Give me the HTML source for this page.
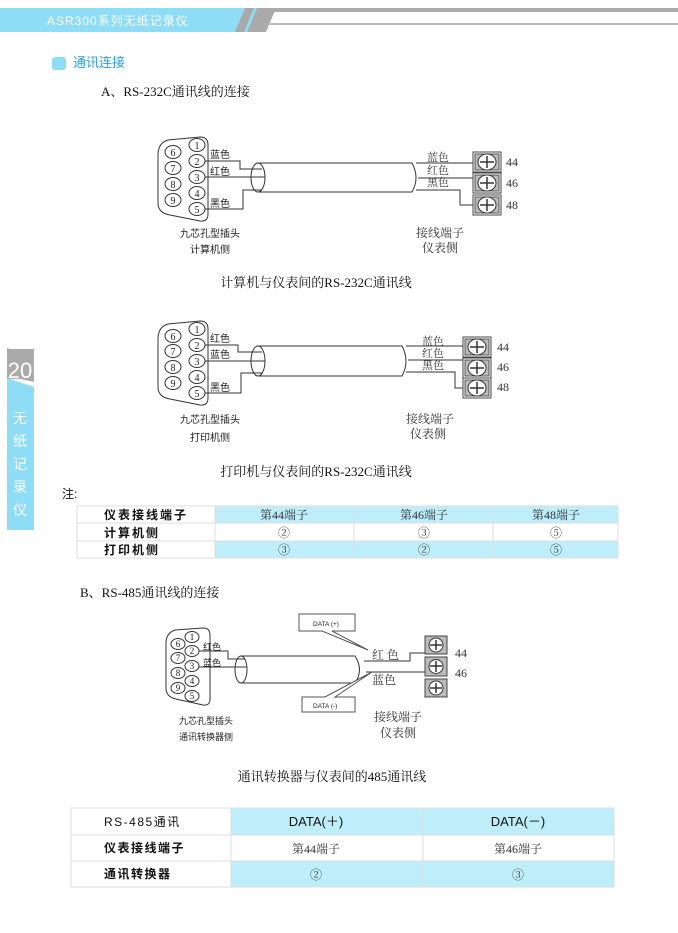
<!DOCTYPE html>
<html><head><meta charset="utf-8"><style>
body{margin:0;background:#fff}
svg{display:block}
.s{font-family:"Liberation Sans","Noto Sans CJK SC",sans-serif}
.r{font-family:"Liberation Serif","Noto Serif CJK SC",serif}
</style></head><body>
<svg width="678" height="933" viewBox="0 0 678 933" xmlns="http://www.w3.org/2000/svg">
<defs>
<g id="pins" fill="#fff" stroke="#333" stroke-width="1">
 <path d="M-4,-6 Q-14,-3 -14,8 L-14,62 Q-14,74 -2,76 L28,84 Q36,86 38,78 L38,0 Q38,-8 30,-8 Z" fill="#fff"/>
</g>
<g id="term">
 <rect x="0" y="0" width="28" height="20" fill="#fff" stroke="#444"/>
 <rect x="2" y="2" width="24" height="16" fill="#bbb" stroke="#555"/>
 <ellipse cx="14" cy="10" rx="9" ry="8" fill="#fff" stroke="#333"/>
 <path d="M7,10 H21 M14,4 V16" stroke="#333" stroke-width="1.5"/>
</g>
</defs>

<!-- header -->
<rect x="0" y="8" width="245" height="24" fill="#8fdcf6"/>
<polygon points="237,8 262,8 252,32 227,32" fill="#8fdcf6"/>
<polygon points="245,8 254,8 244,32 235,32" fill="#aaa"/>
<polygon points="257,8 276,8 266,32 247,32" fill="#aaa"/>
<rect x="262" y="8" width="416" height="4" fill="#aaa"/>
<rect x="268" y="23" width="410" height="2" fill="#bbb"/>
<text x="47" y="25" class="s" font-size="12" fill="#fff" letter-spacing="1">ASR300系列无纸记录仪</text>

<rect x="52" y="57" width="14" height="13" rx="3" fill="#8fdcf6"/>
<text x="73" y="67" class="s" font-size="13" fill="#2aa0d8">通讯连接</text>
<text x="101" y="96" class="r" font-size="13" fill="#111">A、RS-232C通讯线的连接</text>

<!-- sidebar -->
<polygon points="7,348 34,357 34,382 7,376" fill="#aaa"/>
<rect x="7" y="349" width="27" height="30" fill="#aaa"/>
<polygon points="7,378 34,387 34,530 7,530" fill="#8fdcf6"/>
<text x="20" y="378" class="s" font-size="22" fill="#fff" text-anchor="middle">20</text>
<g class="s" font-size="14" fill="#fff" text-anchor="middle">
<text x="20" y="423">无</text><text x="20" y="446">纸</text><text x="20" y="469">记</text><text x="20" y="492">录</text><text x="20" y="515">仪</text>
</g>

<!-- Diagram 1 -->
<g stroke="#333" fill="none" stroke-width="1">
 <path d="M168,140 Q158,143 158,155 L158,203 Q158,213 170,215 L200,221 Q208,222 208,214 L208,145 Q208,137 200,137 Z" fill="#fff"/>
</g>
<g fill="#fff" stroke="#333" font-size="10" class="r">
 <ellipse cx="197" cy="145" rx="8" ry="6.5"/><ellipse cx="197" cy="161" rx="8" ry="6.5"/><ellipse cx="197" cy="177" rx="8" ry="6.5"/><ellipse cx="197" cy="193" rx="8" ry="6.5"/><ellipse cx="197" cy="209" rx="8" ry="6.5"/>
 <ellipse cx="173" cy="152" rx="8" ry="6.5"/><ellipse cx="173" cy="168" rx="8" ry="6.5"/><ellipse cx="173" cy="184" rx="8" ry="6.5"/><ellipse cx="173" cy="200" rx="8" ry="6.5"/>
</g>
<g class="r" font-size="10" fill="#222" text-anchor="middle">
 <text x="197" y="149">1</text><text x="197" y="165">2</text><text x="197" y="181">3</text><text x="197" y="197">4</text><text x="197" y="213">5</text>
 <text x="173" y="156">6</text><text x="173" y="172">7</text><text x="173" y="188">8</text><text x="173" y="204">9</text>
</g>
<g stroke="#333" fill="none">
 <path d="M205,161 H240 V169 H262"/><path d="M205,177 H265"/><path d="M205,209 H243 V190 H262"/>
 <path d="M258,163 H412 Q420,178 412,192 H258"/>
 <ellipse cx="258" cy="177.5" rx="7" ry="14.5"/>
 <path d="M416,163 H473"/><path d="M418,178 H473 V183"/><path d="M416,190 H460 V205 H473"/>
</g>
<g class="s" font-size="10" fill="#222"><text x="210" y="158">蓝色</text><text x="210" y="175">红色</text><text x="210" y="207">黑色</text></g>
<g class="r" font-size="11" fill="#333"><text x="427" y="161">蓝色</text><text x="427" y="174">红色</text><text x="427" y="186">黑色</text></g>
<use href="#term" x="473" y="152"/><use href="#term" x="473" y="173"/><use href="#term" x="473" y="195"/>
<g class="r" font-size="12" fill="#333"><text x="506" y="166">44</text><text x="506" y="187">46</text><text x="506" y="209">48</text></g>
<g class="s" font-size="10" fill="#222" text-anchor="middle"><text x="210" y="237">九芯孔型插头</text><text x="210" y="253">计算机侧</text></g>
<g class="r" font-size="12" fill="#333" text-anchor="middle"><text x="440" y="237">接线端子</text><text x="440" y="252">仪表侧</text></g>
<text x="316" y="287" class="r" font-size="13" fill="#111" text-anchor="middle">计算机与仪表间的RS-232C通讯线</text>

<!-- Diagram 2 -->
<path d="M168,324 Q158,327 158,339 L158,387 Q158,397 170,399 L200,405 Q208,406 208,398 L208,329 Q208,321 200,321 Z" fill="#fff" stroke="#333"/>
<g fill="#fff" stroke="#333">
 <ellipse cx="197" cy="329" rx="8" ry="6.5"/><ellipse cx="197" cy="345" rx="8" ry="6.5"/><ellipse cx="197" cy="361" rx="8" ry="6.5"/><ellipse cx="197" cy="377" rx="8" ry="6.5"/><ellipse cx="197" cy="393" rx="8" ry="6.5"/>
 <ellipse cx="173" cy="336" rx="8" ry="6.5"/><ellipse cx="173" cy="351" rx="8" ry="6.5"/><ellipse cx="173" cy="367" rx="8" ry="6.5"/><ellipse cx="173" cy="383" rx="8" ry="6.5"/>
</g>
<g class="r" font-size="10" fill="#222" text-anchor="middle">
 <text x="197" y="333">1</text><text x="197" y="349">2</text><text x="197" y="365">3</text><text x="197" y="381">4</text><text x="197" y="397">5</text>
 <text x="173" y="340">6</text><text x="173" y="355">7</text><text x="173" y="371">8</text><text x="173" y="387">9</text>
</g>
<g stroke="#333" fill="none">
 <path d="M205,345 H238 V352 H262"/><path d="M205,361 H265"/><path d="M205,393 H241 V373 H262"/>
 <path d="M258,346 H402 Q410,361 402,376 H258"/>
 <ellipse cx="258" cy="361" rx="7" ry="15"/>
 <path d="M406,346 H463"/><path d="M408,360 H463 V367"/><path d="M406,372 H455 V388 H463"/>
</g>
<g class="s" font-size="10" fill="#222"><text x="210" y="342">红色</text><text x="210" y="358">蓝色</text><text x="210" y="391">黑色</text></g>
<g class="r" font-size="11" fill="#333"><text x="422" y="345">蓝色</text><text x="422" y="357">红色</text><text x="422" y="369">黑色</text></g>
<use href="#term" x="463" y="337"/><use href="#term" x="463" y="358"/><use href="#term" x="463" y="378"/>
<g class="r" font-size="12" fill="#333"><text x="497" y="351">44</text><text x="497" y="371">46</text><text x="497" y="391">48</text></g>
<g class="s" font-size="10" fill="#222" text-anchor="middle"><text x="210" y="423">九芯孔型插头</text><text x="210" y="441">打印机侧</text></g>
<g class="r" font-size="12" fill="#333" text-anchor="middle"><text x="430" y="423">接线端子</text><text x="428" y="438">仪表侧</text></g>
<text x="316" y="476" class="r" font-size="13" fill="#111" text-anchor="middle">打印机与仪表间的RS-232C通讯线</text>

<text x="62" y="498" class="s" font-size="12" fill="#111">注:</text>
<!-- Table 1 -->
<g stroke="#ddd" stroke-width="1">
 <rect x="77" y="506" width="541" height="52" fill="#fff"/>
 <rect x="215" y="506" width="403" height="17" fill="#bfeefb"/>
 <rect x="215" y="541" width="403" height="17" fill="#bfeefb"/>
 <path d="M77,523 H618 M77,541 H618 M215,506 V558 M354,506 V558 M493,506 V558" fill="none"/>
</g>
<g class="s" font-size="12" fill="#111" font-weight="bold" letter-spacing="2"><text x="104" y="519">仪表接线端子</text><text x="104" y="537">计算机侧</text><text x="104" y="554">打印机侧</text></g>
<g class="r" font-size="12" fill="#333" text-anchor="middle">
 <text x="284" y="519">第44端子</text><text x="424" y="519">第46端子</text><text x="556" y="519">第48端子</text>
 <text x="284" y="537">②</text><text x="424" y="537">③</text><text x="556" y="537">⑤</text>
 <text x="284" y="554">③</text><text x="424" y="554">②</text><text x="556" y="554">⑤</text>
</g>

<text x="80" y="597" class="r" font-size="13" fill="#111">B、RS-485通讯线的连接</text>

<!-- Diagram 3 -->
<path d="M175,630 Q166,633 166,643 L166,688 Q166,697 176,699 L203,705 Q210,706 210,699 L210,635 Q210,628 203,628 Z" fill="#fff" stroke="#333"/>
<g fill="#fff" stroke="#333">
 <ellipse cx="192" cy="637" rx="7" ry="5.5"/><ellipse cx="192" cy="651" rx="7" ry="5.5"/><ellipse cx="192" cy="666" rx="7" ry="5.5"/><ellipse cx="192" cy="681" rx="7" ry="5.5"/><ellipse cx="192" cy="696" rx="7" ry="5.5"/>
 <ellipse cx="178" cy="644" rx="7" ry="5.5"/><ellipse cx="178" cy="658" rx="7" ry="5.5"/><ellipse cx="178" cy="673" rx="7" ry="5.5"/><ellipse cx="178" cy="688" rx="7" ry="5.5"/>
</g>
<g class="r" font-size="9" fill="#222" text-anchor="middle">
 <text x="192" y="640">1</text><text x="192" y="654">2</text><text x="192" y="669">3</text><text x="192" y="684">4</text><text x="192" y="699">5</text>
 <text x="178" y="647">6</text><text x="178" y="661">7</text><text x="178" y="676">8</text><text x="178" y="691">9</text>
</g>
<g stroke="#333" fill="none">
 <path d="M199,651 H228 V659 H245"/><path d="M199,667 H247"/>
 <path d="M241,656 H355 Q364,670 355,683 H241"/>
 <ellipse cx="241" cy="669.5" rx="6" ry="13.5"/>
 <path d="M364,661 H410 V653 H425"/><path d="M366,672 H425"/>
</g>
<g class="s" font-size="9" fill="#222"><text x="203" y="650">红色</text><text x="203" y="666">蓝色</text></g>
<g class="r" font-size="12" fill="#333"><text x="372" y="659">红 色</text><text x="372" y="684">蓝色</text></g>
<rect x="425" y="636" width="22" height="18" fill="#bbb" stroke="#444"/><ellipse cx="436" cy="645" rx="7" ry="7" fill="#fff" stroke="#333"/><path d="M430,645 H442 M436,640 V650" stroke="#333" stroke-width="1.5"/>
<rect x="425" y="657" width="22" height="19" fill="#bbb" stroke="#444"/><ellipse cx="436" cy="666.5" rx="7" ry="7" fill="#fff" stroke="#333"/><path d="M430,666 H442 M436,661 V672" stroke="#333" stroke-width="1.5"/>
<rect x="425" y="679" width="22" height="18" fill="#bbb" stroke="#444"/><ellipse cx="436" cy="688" rx="7" ry="7" fill="#fff" stroke="#333"/><path d="M430,688 H442 M436,683 V693" stroke="#333" stroke-width="1.5"/>
<g class="r" font-size="12" fill="#333"><text x="455" y="657">44</text><text x="455" y="677">46</text></g>
<path d="M299,614 H355 V631 H332 L368,650 L322,631 H299 Z" fill="#fff" stroke="#555"/>
<text x="313" y="626" class="s" font-size="6.5" fill="#222">DATA (+)</text>
<path d="M302,697 H325 L372,672 L335,697 H355 V712 H302 Z" fill="#fff" stroke="#555"/>
<text x="313" y="708" class="s" font-size="6.5" fill="#222">DATA (-)</text>
<g class="s" font-size="9" fill="#222" text-anchor="middle"><text x="206" y="724">九芯孔型插头</text><text x="206" y="740">通讯转换器侧</text></g>
<g class="r" font-size="12" fill="#333" text-anchor="middle"><text x="398" y="721">接线端子</text><text x="398" y="737">仪表侧</text></g>
<text x="332" y="781" class="r" font-size="13" fill="#111" text-anchor="middle">通讯转换器与仪表间的485通讯线</text>

<!-- Table 2 -->
<g stroke="#ddd">
 <rect x="71" y="808" width="543" height="79" fill="#fff"/>
 <rect x="231" y="808" width="383" height="27" fill="#bfeefb"/>
 <rect x="231" y="861" width="383" height="26" fill="#bfeefb"/>
 <path d="M71,835 H614 M71,861 H614 M231,808 V887 M423,808 V887" fill="none"/>
</g>
<g class="s" font-size="12" fill="#111" letter-spacing="1.5"><text x="104" y="826">RS-485通讯</text><text x="104" y="852" font-weight="bold">仪表接线端子</text><text x="104" y="878" font-weight="bold">通讯转换器</text></g>
<g class="s" font-size="13" fill="#111" text-anchor="middle"><text x="316" y="826">DATA(＋)</text><text x="518" y="826">DATA(－)</text></g>
<g class="r" font-size="12" fill="#333" text-anchor="middle"><text x="316" y="853">第44端子</text><text x="518" y="853">第46端子</text><text x="316" y="879">②</text><text x="518" y="879">③</text></g>
</svg>
</body></html>
